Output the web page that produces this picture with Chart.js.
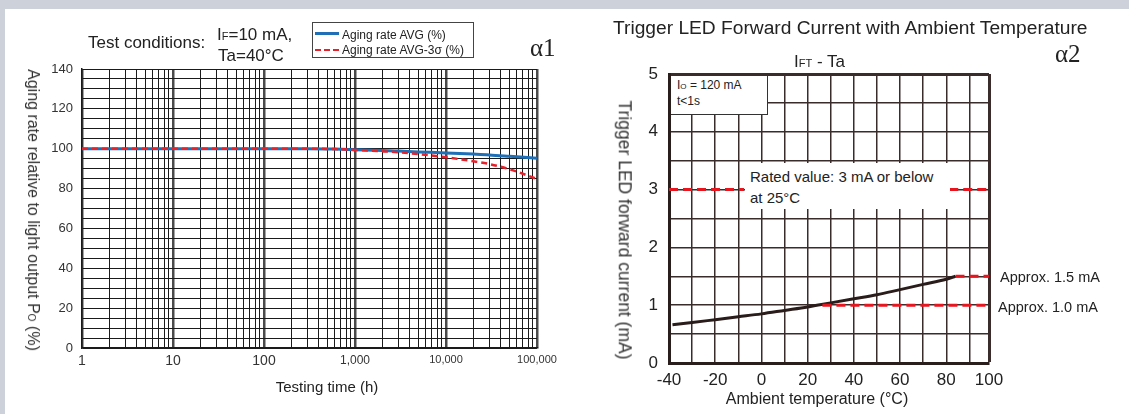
<!DOCTYPE html>
<html><head><meta charset="utf-8">
<script src="https://cdn.jsdelivr.net/npm/chart.js@4.4.1/dist/chart.umd.min.js"></script>
<style>
html,body{margin:0;padding:0;width:1129px;height:414px;overflow:hidden;background:#cdd2da;font-family:"Liberation Sans",Arial,sans-serif;color:#222}
#panel{position:absolute;left:5px;top:9px;right:0;bottom:0;background:#fff}
.t{position:absolute;white-space:nowrap;line-height:1;transform:translateY(-50%)}
.rot{position:absolute;white-space:nowrap;line-height:1;transform:translate(-50%,-50%) rotate(90deg);color:#333}
.serif{font-family:"Liberation Serif","DejaVu Serif",serif}
#c1wrap{position:absolute;left:0;top:0;width:575px;height:414px}
#c2wrap{position:absolute;left:575px;top:0;width:554px;height:414px}
.box{position:absolute;background:#fff}
</style></head>
<body>
<div id="panel"></div>
<div id="c1wrap"><canvas id="c1" width="575" height="414"></canvas></div>
<div id="c2wrap"><canvas id="c2" width="554" height="414"></canvas></div>

<!-- left chart texts -->
<div class="t" style="left:88px;top:42px;font-size:17px">Test conditions:</div>
<div class="t" style="left:217px;top:34px;font-size:17px">I<span style="font-size:11px">F</span>=10 mA,</div>
<div class="t" style="left:218px;top:55px;font-size:17px">Ta=40°C</div>
<div class="box" style="left:312px;top:22px;width:160px;height:34px;border:1px solid #444"></div>
<div style="position:absolute;left:315px;top:32px;width:24px;border-top:3px solid #1f6fb6"></div>
<div class="t" style="left:342px;top:34.5px;font-size:12px">Aging rate AVG (%)</div>
<div style="position:absolute;left:315px;top:49px;width:24px;border-top:2px dashed #e8202a"></div>
<div class="t" style="left:342px;top:49.5px;font-size:12px">Aging rate AVG-3σ (%)</div>
<div class="t serif" style="left:530px;top:47px;font-size:25px">α1</div>
<div class="rot" style="left:32.5px;top:210px;font-size:16px">Aging rate relative to light output P<span style="font-size:10px">O</span> (%)</div>
<div class="t" style="left:327px;top:386px;font-size:15px;transform:translate(-50%,-50%)">Testing time (h)</div>

<!-- right chart overlays & texts -->
<div class="box" style="left:671px;top:76px;width:96px;height:38px;border-right:1px solid #333;border-bottom:1px solid #333"></div>
<div class="t" style="left:677px;top:85px;font-size:12px">I<span style="font-size:8px">O</span> = 120 mA</div>
<div class="t" style="left:677px;top:101px;font-size:12px">t&lt;1s</div>
<div class="box" style="left:745px;top:163px;width:205px;height:46px"></div>
<div class="t" style="left:750px;top:176px;font-size:15px">Rated value: 3 mA or below</div>
<div class="t" style="left:750px;top:197px;font-size:15px">at 25°C</div>
<div class="t" style="left:613px;top:28px;font-size:19.2px">Trigger LED Forward Current with Ambient Temperature</div>
<div class="t" style="left:794px;top:61px;font-size:17px">I<span style="font-size:11px">FT</span> - Ta</div>
<div class="t serif" style="left:1055px;top:53px;font-size:25px">α2</div>
<div class="t" style="left:1000px;top:277px;font-size:14.5px">Approx. 1.5 mA</div>
<div class="t" style="left:998px;top:307px;font-size:14.5px">Approx. 1.0 mA</div>
<div class="t" style="left:817px;top:399px;font-size:16px;transform:translate(-50%,-50%)">Ambient temperature (°C)</div>
<div class="rot" style="left:624px;top:230px;font-size:17.5px">Trigger LED forward current (mA)</div>

<script>
// ---------- DATA: left chart (aging) ----------
const testHours = [1, 10, 100, 300, 600, 1000, 2000, 3000, 5000, 10000, 20000, 30000, 50000, 100000];
const agingAvg = [100, 100, 100, 100, 99.8, 99.5, 99.1, 98.8, 98.4, 97.9, 97.3, 96.9, 96.2, 95.2];
const agingAvg3Sigma = [100, 100, 100, 100, 99.8, 99.4, 98.7, 98.2, 97.3, 95.7, 93.7, 92.3, 89.7, 84.8];
const timeTickValues = [1, 10, 100, 1000, 10000, 100000];
const timeTickLabels = ['1', '10', '100', '1,000', '10,000', '100,000'];
const rateTickValues = [0, 20, 40, 60, 80, 100, 120, 140];
const rateTickLabels = ['0', '20', '40', '60', '80', '100', '120', '140'];

// ---------- DATA: right chart (IFT - Ta) ----------
const ambientTemp = [-38.5, -30, -20, -10, 0, 10, 20, 30, 40, 50, 60, 70, 80, 84];
const triggerCurrent = [0.66, 0.70, 0.75, 0.80, 0.85, 0.91, 0.97, 1.04, 1.11, 1.18, 1.27, 1.36, 1.45, 1.50];
const ratedCurrent = 3;
const ratedSegmentsTemp = [[-40, -7.5], [81.3, 98.5]];
const approxHighCurrent = 1.5, approxHighFromTemp = 84;
const approxLowCurrent = 1.0, approxLowFromTemp = 26.4;
const tempAxisMin = -40, tempAxisMax = 98.5;
const tempGridValues = [-40, -30, -20, -10, 0, 10, 20, 30, 40, 50, 60, 70, 80, 90, 98.5];
const tempTickLabels = ['-40', '', '-20', '', '0', '', '20', '', '40', '', '60', '', '80', '', '100'];
const currentTickValues = [0, 1, 2, 3, 4, 5];
const currentTickLabels = ['0', '1', '2', '3', '4', '5'];

Chart.defaults.font.family = '"Liberation Sans", Arial, sans-serif';
Chart.defaults.animation = false;

const isDecade = v => { const l = Math.log10(v); return Math.abs(l - Math.round(l)) < 1e-9; };

// ---------- Left chart ----------
new Chart(document.getElementById('c1'), {
  type: 'line',
  data: {
    datasets: [
      { label: 'Aging rate AVG-3σ (%)', data: testHours.map((h, i) => ({ x: h, y: agingAvg3Sigma[i] })),
        borderColor: '#e8202a', borderWidth: 2.5, borderDash: [6, 4], pointRadius: 0, cubicInterpolationMode: 'monotone', fill: false },
      { label: 'Aging rate AVG (%)', data: testHours.map((h, i) => ({ x: h, y: agingAvg[i] })),
        borderColor: '#1f6fb6', borderWidth: 3, pointRadius: 0, cubicInterpolationMode: 'monotone', fill: false }
    ]
  },
  options: {
    responsive: false,
    layout: { padding: { top: 69, right: 38, bottom: 0, left: 0 } },
    plugins: { legend: { display: false }, tooltip: { enabled: false } },
    scales: {
      x: {
        type: 'logarithmic', min: 1, max: 100000,
        afterBuildTicks: s => {
          const t = [];
          for (let d = 1; d < 100000; d *= 10) for (let k = 1; k <= 9; k++) t.push({ value: k * d });
          t.push({ value: 100000 });
          s.ticks = t;
        },
        afterFit: s => { s.height = 414 - 348; },
        ticks: {
          autoSkip: false, maxRotation: 0, minRotation: 0, padding: 5, color: '#333',
          font: ctx => ({ size: ctx.tick && ctx.tick.value >= 10000 ? 11 : (ctx.tick && ctx.tick.value >= 1000 ? 12 : 14) }),
          callback: v => { const i = timeTickValues.findIndex(tv => Math.abs(tv - v) < 1e-6); return i >= 0 ? timeTickLabels[i] : ''; }
        },
        grid: {
          drawTicks: false,
          color: ctx => (ctx.tick && isDecade(ctx.tick.value) ? '#4a4a4a' : '#1a1a1a'),
          lineWidth: ctx => (ctx.tick && isDecade(ctx.tick.value) ? 2.5 : 1)
        },
        border: { color: '#1a1a1a', width: 1.5 }
      },
      y: {
        min: 0, max: 140,
        afterFit: s => { s.width = 82; },
        ticks: {
          stepSize: 5, autoSkip: false, padding: 9, color: '#333', font: { size: 13 },
          callback: v => { const i = rateTickValues.indexOf(v); return i >= 0 ? rateTickLabels[i] : ''; }
        },
        grid: { drawTicks: false, color: '#1a1a1a', lineWidth: 1 },
        border: { color: '#1a1a1a', width: 1.5 }
      }
    }
  }
});

// ---------- Right chart ----------
const redLineStyle = { borderColor: '#e8141e', borderWidth: 3, borderDash: [9, 5], pointRadius: 0, fill: false, spanGaps: false };
const ratedData = [];
ratedSegmentsTemp.forEach((seg, i) => {
  if (i > 0) ratedData.push({ x: (ratedSegmentsTemp[i - 1][1] + seg[0]) / 2, y: null });
  ratedData.push({ x: seg[0], y: ratedCurrent }, { x: seg[1], y: ratedCurrent });
});

new Chart(document.getElementById('c2'), {
  type: 'line',
  data: {
    datasets: [
      Object.assign({ label: 'Rated', data: ratedData }, redLineStyle),
      Object.assign({ label: 'Approx 1.5', data: [{ x: approxHighFromTemp, y: approxHighCurrent }, { x: tempAxisMax, y: approxHighCurrent }] }, redLineStyle),
      Object.assign({ label: 'Approx 1.0', data: [{ x: approxLowFromTemp, y: approxLowCurrent }, { x: tempAxisMax, y: approxLowCurrent }] }, redLineStyle),
      { label: 'IFT', data: ambientTemp.map((t, i) => ({ x: t, y: triggerCurrent[i] })),
        borderColor: '#2a1c1a', borderWidth: 3, pointRadius: 0, cubicInterpolationMode: 'monotone', fill: false }
    ]
  },
  options: {
    responsive: false,
    layout: { padding: { top: 74, right: 140, bottom: 0, left: 0 } },
    plugins: { legend: { display: false }, tooltip: { enabled: false } },
    scales: {
      x: {
        type: 'linear', min: tempAxisMin, max: tempAxisMax,
        afterBuildTicks: s => { s.ticks = tempGridValues.map(v => ({ value: v })); },
        afterFit: s => { s.height = 414 - 363; },
        ticks: {
          autoSkip: false, maxRotation: 0, minRotation: 0, padding: 7, color: '#222', font: { size: 17 },
          callback: v => tempTickLabels[tempGridValues.indexOf(v)] || ''
        },
        grid: {
          drawTicks: false, color: '#3a2c2a',
          lineWidth: ctx => (ctx.tick && ctx.tick.value === tempAxisMax ? 3 : 1.5)
        },
        border: { color: '#2a1e1c', width: 3 }
      },
      y: {
        min: 0, max: 5,
        afterFit: s => { s.width = 94; },
        ticks: {
          stepSize: 0.5, autoSkip: false, padding: 11, color: '#222', font: { size: 17 },
          callback: v => { const i = currentTickValues.indexOf(v); return i >= 0 ? currentTickLabels[i] : ''; }
        },
        grid: {
          drawTicks: false, color: '#3a2c2a',
          lineWidth: ctx => (ctx.tick && ctx.tick.value === 5 ? 3 : 1.5)
        },
        border: { color: '#2a1e1c', width: 3 }
      }
    }
  }
});
</script>
</body></html>
